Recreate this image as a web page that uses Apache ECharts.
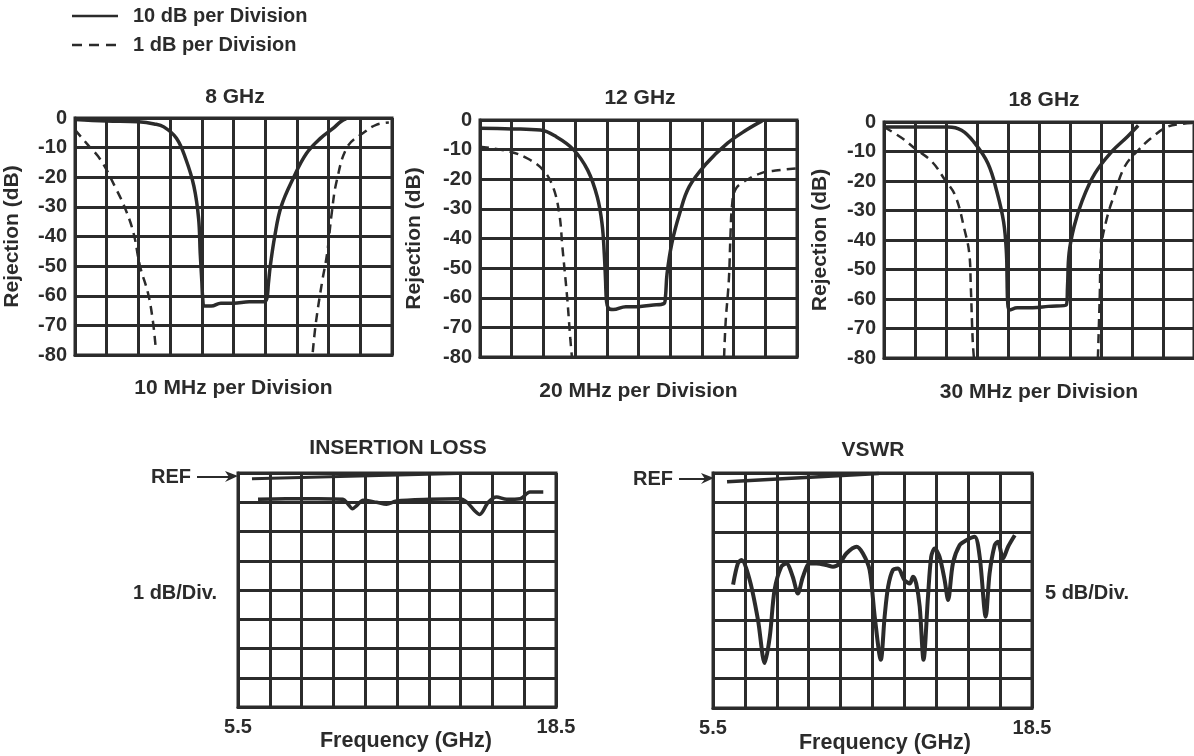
<!DOCTYPE html>
<html><head><meta charset="utf-8">
<script src="https://cdn.jsdelivr.net/npm/echarts@6/dist/echarts.min.js"></script>
<style>html,body{margin:0;padding:0;background:#fff}#c{width:1194px;height:756px}</style>
</head><body><div id="c"></div>
<script>
// ---- data (x in grid divisions, y in displayed dB) ----
const panelTitles = ['8 GHz', '12 GHz', '18 GHz'];
const spanLabels = ['10 MHz per Division', '20 MHz per Division', '30 MHz per Division'];
const rejectionTicks = [0, -10, -20, -30, -40, -50, -60, -70, -80];
const freqEndLabels = ['5.5', '18.5'];
const legendLabels = ['10 dB per Division', '1 dB per Division'];

const ghz8Solid = [[0,-0.5],[1,-1],[2,-1.3],[2.5,-2],[2.8,-3],[3.2,-6.8],[3.5,-14],[3.75,-23],[3.9,-34],[3.95,-45.6],[4.0,-55],[4.03,-61],[4.08,-63.5],[4.3,-63.5],[4.6,-62.5],[5.0,-62.5],[5.5,-62],[5.95,-62],[6.05,-61],[6.1,-56],[6.16,-50],[6.3,-40],[6.5,-30],[6.9,-20],[7.3,-12],[7.75,-6.8],[8.15,-3.4],[8.4,-1.1],[8.55,-0.3]];
const ghz8DashL = [[0,-4],[0.4,-9],[0.8,-14],[1.3,-24],[1.6,-31],[1.85,-39],[2.05,-50],[2.3,-59],[2.45,-68],[2.55,-78]];
const ghz8DashR = [[7.5,-79],[7.6,-69],[7.8,-55],[7.95,-46],[8.1,-32],[8.26,-21],[8.6,-9.6],[9.1,-5],[9.5,-2.3],[9.9,-1.5]];

const ghz12Solid = [[0,-2.8],[1,-3],[1.9,-3.4],[2.4,-5.6],[2.95,-10],[3.4,-17],[3.7,-26],[3.85,-35],[3.92,-45],[3.96,-54],[3.99,-61],[4.05,-63.5],[4.2,-64],[4.6,-63],[5.0,-63],[5.4,-62.5],[5.8,-62],[5.85,-59.7],[5.9,-52],[6.05,-41.7],[6.3,-31.5],[6.6,-22.5],[7.15,-14.6],[7.8,-7.9],[8.4,-3.4],[8.9,-0.3]];
const ghz12DashL = [[0,-9],[0.95,-10.7],[1.5,-13],[2,-17],[2.3,-22.5],[2.5,-31.5],[2.6,-43],[2.75,-60],[2.85,-74],[2.9,-80]];
const ghz12DashR = [[7.7,-80],[7.75,-68],[7.85,-54],[7.9,-39.4],[7.95,-29],[8.05,-23.6],[8.3,-21],[8.85,-18],[9.4,-17],[10,-16.3]];

const ghz18Solid = [[0,-1.7],[1,-1.7],[2.07,-1.7],[2.5,-2.8],[2.9,-6.8],[3.35,-14],[3.65,-24],[3.86,-34],[3.95,-44.5],[3.97,-53.5],[3.99,-61],[4.05,-63.7],[4.3,-63],[4.8,-63],[5.3,-62.5],[5.88,-62],[5.92,-55.8],[5.97,-44.5],[6.13,-35.5],[6.4,-26.5],[6.8,-17.5],[7.35,-10],[7.85,-5],[8.2,-1.2]];
const ghz18DashL = [[0,-1.7],[0.6,-5.6],[1,-9],[1.55,-13.5],[1.97,-19.7],[2.3,-25],[2.6,-36.6],[2.75,-44.5],[2.8,-55.8],[2.86,-73.8],[2.9,-80]];
const ghz18DashR = [[6.9,-80],[6.96,-59],[7.0,-43.4],[7.18,-33],[7.45,-24],[7.77,-15],[8.2,-9.6],[8.6,-5.6],[9.13,-1.7],[9.65,-0.6],[10,-0.3]];

const ilTrace = [[0.63,-0.9],[1.5,-0.88],[2.5,-0.88],[3.3,-0.9],[3.45,-1.05],[3.6,-1.22],[3.75,-1.1],[3.93,-0.93],[4.35,-1.0],[4.67,-1.07],[4.98,-0.96],[6.03,-0.9],[6.98,-0.88],[7.2,-1.0],[7.45,-1.3],[7.6,-1.42],[7.87,-1.0],[8.13,-0.82],[8.45,-0.9],[8.87,-0.88],[9.18,-0.65],[9.6,-0.65]];
const ilRef = [[0.44,-0.2],[6.9,-0.02]];

const vswrTrace = [[0.63,-3.8],[0.78,-3.08],[0.89,-2.96],[1.15,-3.64],[1.41,-5.0],[1.62,-6.47],[1.78,-5.57],[1.93,-3.98],[2.14,-3.19],[2.3,-3.08],[2.5,-3.53],[2.66,-4.1],[2.82,-3.53],[3.03,-3.08],[3.24,-3.08],[3.55,-3.13],[3.76,-3.19],[3.97,-3.08],[4.18,-2.74],[4.5,-2.51],[4.7,-2.74],[4.91,-3.3],[5.07,-4.89],[5.26,-6.36],[5.38,-4.89],[5.49,-3.87],[5.64,-3.3],[5.8,-3.25],[6.0,-3.64],[6.17,-3.76],[6.27,-3.53],[6.37,-3.76],[6.48,-4.55],[6.6,-6.36],[6.74,-4.2],[6.84,-2.85],[6.95,-2.57],[7.1,-2.85],[7.26,-3.64],[7.37,-4.32],[7.52,-3.08],[7.73,-2.46],[7.94,-2.29],[8.2,-2.17],[8.36,-2.85],[8.55,-4.89],[8.67,-3.42],[8.83,-2.46],[8.93,-2.34],[9.09,-2.91],[9.25,-2.51],[9.46,-2.12]];
const vswrRef = [[0.44,-0.3],[5.2,-0.02]];

// ---- styling ----
const INK = '#2b2b2b';
const FONT = 'Liberation Sans';
const grids = [
  {left:75, top:118, width:317, height:237},
  {left:480, top:120, width:317, height:237},
  {left:884, top:122, width:317, height:236},
  {left:238, top:473, width:318, height:234},
  {left:713, top:473, width:319, height:235}
];
const txt = (s) => Object.assign({color: INK, fontFamily: FONT, fontWeight: 'bold', fontSize: 20}, s || {});
const gridLine = {show: true, lineStyle: {color: INK, width: 3}};

const xAxes = grids.map((g, i) => ({
  type: 'value', gridIndex: i, min: 0, max: 10, interval: 1,
  axisLine: {show: true, onZero: false, lineStyle: {color: INK, width: 3}},
  axisTick: {show: false}, splitLine: gridLine,
  axisLabel: i < 3 ? {show: false} : {show: true, margin: 10, ...txt(),
    formatter: v => v === 0 ? freqEndLabels[0] : (v === 10 ? freqEndLabels[1] : '')},
  name: i < 3 ? spanLabels[i] : '', nameLocation: 'middle', nameGap: i === 0 ? 23 : 24,
  nameTextStyle: txt({fontSize: 21})
}));
const yAxes = grids.map((g, i) => i < 3 ? ({
  type: 'value', gridIndex: i, min: rejectionTicks[rejectionTicks.length-1], max: rejectionTicks[0], interval: 10,
  axisLine: {show: true, lineStyle: {color: INK, width: 3}},
  axisTick: {show: false}, splitLine: gridLine,
  axisLabel: {show: true, margin: 8, ...txt()},
  name: 'Rejection (dB)', nameLocation: 'middle', nameGap: [52, 55, 53][i], nameTextStyle: txt({fontSize: 21})
}) : ({
  type: 'value', gridIndex: i, min: -8, max: 0, interval: 1,
  axisLine: {show: true, lineStyle: {color: INK, width: 3}},
  axisTick: {show: false}, splitLine: gridLine, axisLabel: {show: false}
}));

function ser(i, data, dashed, w, sm) {
  return {type: 'line', xAxisIndex: i, yAxisIndex: i, data: data, showSymbol: false, symbol: 'none',
    smooth: sm === undefined ? 0.4 : sm, silent: true,
    lineStyle: {color: INK, width: w || (dashed ? 2.5 : 3.5), type: dashed ? [9, 6] : 'solid'}};
}
const series = [
  ser(0, ghz8Solid), ser(0, ghz8DashL, true), ser(0, ghz8DashR, true),
  ser(1, ghz12Solid), ser(1, ghz12DashL, true), ser(1, ghz12DashR, true),
  ser(2, ghz18Solid), ser(2, ghz18DashL, true), ser(2, ghz18DashR, true),
  ser(3, ilTrace, false, 3.5, 0.3), ser(3, ilRef, false, 3, 0),
  ser(4, vswrTrace, false, 4, 0.3), ser(4, vswrRef, false, 3.5, 0)
];

function T(x, y, text, extra, size) {
  return {type: 'text', x: x, y: y, style: Object.assign({text: text, fill: INK, font: 'bold ' + (size || 20) + 'px "' + FONT + '"', align: 'center', verticalAlign: 'middle'}, extra || {})};
}
function refArrow(x0, x1, y) {
  return [
    T(x0 - 22, y, 'REF'),
    {type: 'line', shape: {x1: x0 + 4, y1: y, x2: x1 - 6, y2: y}, style: {stroke: INK, lineWidth: 2}},
    {type: 'polygon', shape: {points: [[x1, y - 1], [x1 - 13, y - 6], [x1 - 9, y], [x1 - 13, y + 5]]}, style: {fill: INK}}
  ];
}
const graphic = [
  {type: 'line', shape: {x1: 72, y1: 16, x2: 118, y2: 16}, style: {stroke: INK, lineWidth: 2.5}},
  T(133, 16, legendLabels[0], {align: 'left'}),
  {type: 'line', shape: {x1: 72, y1: 45, x2: 118, y2: 45}, style: {stroke: INK, lineWidth: 2.5, lineDash: [10, 7]}},
  T(133, 45, legendLabels[1], {align: 'left'}),
  T(235, 97, panelTitles[0], null, 21), T(640, 98, panelTitles[1], null, 21), T(1044, 100, panelTitles[2], null, 21),
  T(398, 448, 'INSERTION LOSS', null, 21), T(873, 450, 'VSWR', null, 21),
  ...refArrow(193, 238, 477), ...refArrow(675, 714, 479),
  T(175, 593, '1 dB/Div.'), T(1087, 593, '5 dB/Div.'),
  T(406, 741, 'Frequency (GHz)', null, 21.5), T(885, 743, 'Frequency (GHz)', null, 21.5)
];

const chart = echarts.init(document.getElementById('c'), null, {renderer: 'canvas'});
chart.setOption({
  backgroundColor: '#fff', animation: false,
  grid: grids.map(g => Object.assign({show: true, borderColor: INK, borderWidth: 3, containLabel: false}, g)),
  xAxis: xAxes, yAxis: yAxes, series: series, graphic: graphic
});
</script></body></html>
